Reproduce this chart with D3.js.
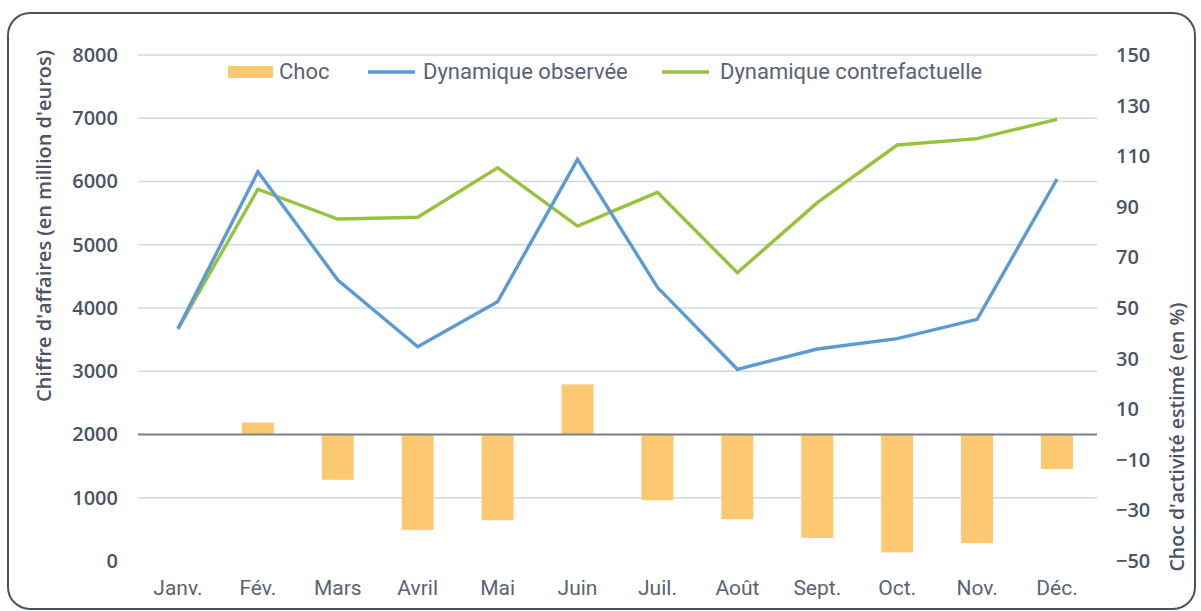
<!DOCTYPE html>
<html>
<head>
<meta charset="utf-8">
<script src="https://cdn.jsdelivr.net/npm/d3@7/dist/d3.min.js"></script>
<style>
  html, body { margin: 0; padding: 0; background: #ffffff; }
  svg { display: block; }
</style>
</head>
<body>
<svg id="chart" width="1201" height="611"></svg>
<script>
// Monthly turnover (million euros) and estimated activity shock (%)
const months = ["Janv.", "Fév.", "Mars", "Avril", "Mai", "Juin", "Juil.", "Août", "Sept.", "Oct.", "Nov.", "Déc."];
const observed = [3670, 6155, 4443, 3388, 4100, 6351, 4327, 3031, 3352, 3515, 3821, 6040];
const counterfactual = [3670, 5877, 5407, 5434, 6218, 5296, 5829, 4558, 5665, 6577, 6677, 6983];
const shock = [0, 4.7, -17.9, -37.7, -33.9, 19.8, -26.0, -33.5, -40.9, -46.6, -42.9, -13.6];
const leftTicks = [0, 1000, 2000, 3000, 4000, 5000, 6000, 7000, 8000];
const rightTicks = [-50, -30, -10, 10, 30, 50, 70, 90, 110, 130, 150];
const legendLabels = ["Choc", "Dynamique observée", "Dynamique contrefactuelle"];

const svg = d3.select("#chart");
const plot = { left: 138, right: 1097, top: 55, bottom: 561 };

const textColor = "#4b5464";
const monthColor = "#5a6372";
const gridColor = "#d3d8e0";
const zeroColor = "#7d8490";
const barColor = "#fdc872";
const blue = "#5b9bd5";
const green = "#97c23c";

// Rounded frame
svg.append("rect")
  .attr("x", 8).attr("y", 13)
  .attr("width", 1187).attr("height", 596)
  .attr("rx", 22).attr("ry", 22)
  .attr("fill", "none")
  .attr("stroke", "#4a5162")
  .attr("stroke-width", 2);

const x = d3.scaleBand()
  .domain(months)
  .range([plot.left, plot.right])
  .paddingInner(0.6)
  .paddingOuter(0.3);

const yL = d3.scaleLinear().domain([0, 8000]).range([plot.bottom, plot.top]);
const yR = d3.scaleLinear().domain([-50, 150]).range([plot.bottom, plot.top]);
const cx = d => x(d) + x.bandwidth() / 2;

// Horizontal gridlines (skip the baseline at 0, drawn separately)
svg.append("g").selectAll("line")
  .data(leftTicks.filter(t => t > 0))
  .join("line")
  .attr("x1", plot.left).attr("x2", plot.right)
  .attr("y1", d => yL(d)).attr("y2", d => yL(d))
  .attr("stroke", gridColor)
  .attr("stroke-width", 1.3);

// Shock bars on the right axis
svg.append("g").selectAll("rect")
  .data(months.map((m, i) => ({ m, v: shock[i] })))
  .join("rect")
  .attr("x", d => x(d.m))
  .attr("width", x.bandwidth())
  .attr("y", d => yR(Math.max(0, d.v)))
  .attr("height", d => Math.abs(yR(d.v) - yR(0)))
  .attr("fill", barColor);

// Zero line of the shock axis
svg.append("line")
  .attr("x1", plot.left).attr("x2", plot.right)
  .attr("y1", yR(0)).attr("y2", yR(0))
  .attr("stroke", zeroColor)
  .attr("stroke-width", 1.8);

// Turnover lines
const line = d3.line().x((d, i) => cx(months[i])).y(d => yL(d));
[[counterfactual, green], [observed, blue]].forEach(([vals, col]) => {
  svg.append("path")
    .datum(vals)
    .attr("d", line)
    .attr("fill", "none")
    .attr("stroke", col)
    .attr("stroke-width", 3.4)
    .attr("stroke-linejoin", "miter");
});

// Left axis
const axisL = svg.append("g")
  .attr("transform", `translate(${plot.left},0)`)
  .call(d3.axisLeft(yL).tickValues(leftTicks).tickSize(0).tickPadding(20).tickFormat(d3.format("d")));
axisL.select(".domain").remove();
axisL.selectAll("text")
  .attr("fill", textColor)
  .style("font-family", "'Open Sans', sans-serif")
  .style("font-weight", 600)
  .style("font-size", "20px");

// Right axis
const axisR = svg.append("g")
  .attr("transform", `translate(${plot.right},0)`)
  .call(d3.axisRight(yR).tickValues(rightTicks).tickSize(0).tickPadding(19).tickFormat(d3.format("d")));
axisR.select(".domain").remove();
axisR.selectAll("text")
  .attr("fill", textColor)
  .style("font-family", "'Open Sans', sans-serif")
  .style("font-weight", 600)
  .style("font-size", "20px");

// Month labels
const axisB = svg.append("g")
  .attr("transform", `translate(0,${plot.bottom})`)
  .call(d3.axisBottom(x).tickSize(0).tickPadding(19));
axisB.select(".domain").remove();
axisB.selectAll("text")
  .attr("fill", monthColor)
  .style("font-family", "Roboto, sans-serif")
  .style("font-size", "21px");

// Axis titles
svg.append("text")
  .attr("transform", `translate(51,226) rotate(-90)`)
  .attr("text-anchor", "middle")
  .attr("fill", textColor)
  .style("font-family", "'Open Sans', sans-serif")
  .style("font-weight", 600)
  .style("font-size", "20px")
  .text("Chiffre d'affaires (en million d'euros)");

svg.append("text")
  .attr("transform", `translate(1184,437) rotate(-90)`)
  .attr("text-anchor", "middle")
  .attr("fill", textColor)
  .style("font-family", "'Open Sans', sans-serif")
  .style("font-weight", 600)
  .style("font-size", "19.5px")
  .text("Choc d'activité estimé (en %)");

// Legend
const legend = svg.append("g").attr("transform", "translate(0,72)");
const legendX = [228, 368, 662];
const legendTextX = [279, 423, 720];
legend.append("rect")
  .attr("x", legendX[0]).attr("y", -6)
  .attr("width", 45).attr("height", 12)
  .attr("fill", barColor);
[[blue, 1], [green, 2]].forEach(([col, i]) => {
  legend.append("line")
    .attr("x1", legendX[i]).attr("x2", legendX[i] + 47)
    .attr("y1", 0).attr("y2", 0)
    .attr("stroke", col)
    .attr("stroke-width", 3.4);
});
legend.selectAll("text.lab")
  .data(legendLabels)
  .join("text")
  .attr("class", "lab")
  .attr("x", (d, i) => legendTextX[i])
  .attr("y", 0)
  .attr("dy", "0.34em")
  .attr("fill", monthColor)
  .style("font-family", "Roboto, sans-serif")
  .style("font-size", "22px")
  .text(d => d);
</script>
</body>
</html>
